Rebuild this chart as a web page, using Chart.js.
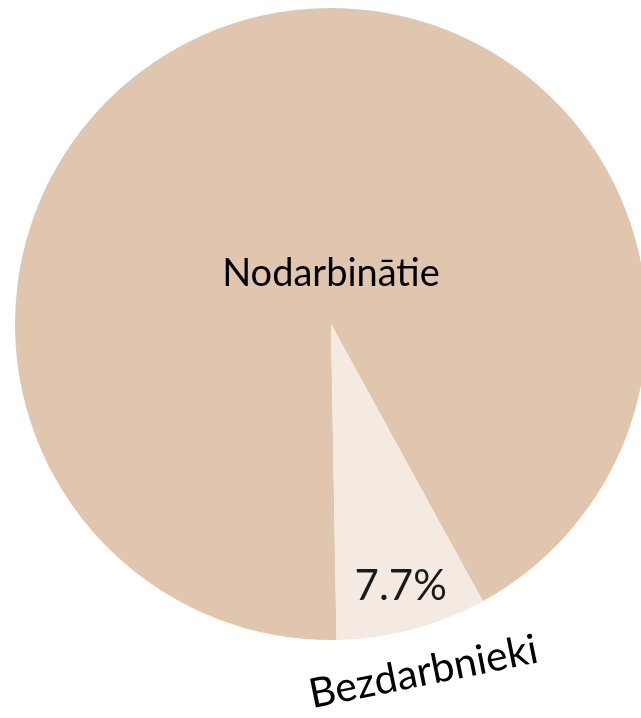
<!DOCTYPE html>
<html>
<head>
<meta charset="utf-8">
<script src="https://cdn.jsdelivr.net/npm/chart.js@4/dist/chart.umd.min.js"></script>
<style>
  html, body { margin: 0; padding: 0; background: #ffffff; overflow: hidden; }
  #wrap { width: 662px; height: 718px; position: relative; }
</style>
</head>
<body>
<div id="wrap"><canvas id="c" width="662" height="718"></canvas></div>
<script>
const categories = ["Nodarbinātie", "Bezdarbnieki"];
const values = [92.3, 7.7];
const valueLabels = ["", "7.7%"];
const colors = ["#E0C5AF", "#F4EAE1"];

const labelPlugin = {
  id: 'pieLabels',
  afterDatasetsDraw(chart) {
    const ctx = chart.ctx;
    const meta = chart.getDatasetMeta(0);
    ctx.save();
    ctx.textAlign = 'center';
    ctx.textBaseline = 'middle';
    // Big slice category label, near the pie centre
    const a0 = meta.data[0];
    ctx.fillStyle = '#000000';
    ctx.font = '38px Lato, "Open Sans", sans-serif';
    ctx.fillText(categories[0], a0.x, a0.y - a0.outerRadius * 0.158);
    // Small slice: value inside, category outside (rotated)
    const a1 = meta.data[1];
    const mid = (a1.startAngle + a1.endAngle) / 2;
    const r = a1.outerRadius;
    ctx.fillStyle = '#1a1a1a';
    ctx.font = '42px Lato, "Open Sans", sans-serif';
    ctx.fillText(valueLabels[1], a1.x + Math.cos(mid) * r * 0.86, a1.y + Math.sin(mid) * r * 0.86);
    ctx.fillStyle = '#000000';
    ctx.font = '41px Lato, "Open Sans", sans-serif';
    const lx = a1.x + Math.cos(mid) * r * 1.14;
    const ly = a1.y + Math.sin(mid) * r * 1.14;
    ctx.translate(lx, ly);
    ctx.rotate(-11.5 * Math.PI / 180);
    ctx.fillText(categories[1], 0, 0);
    ctx.restore();
  }
};

new Chart(document.getElementById('c'), {
  type: 'pie',
  data: {
    labels: categories,
    datasets: [{
      data: values,
      backgroundColor: colors,
      borderWidth: 0
    }]
  },
  options: {
    responsive: false,
    animation: false,
    rotation: 179,
    layout: { padding: { left: 15, right: 15, top: 8, bottom: 78 } },
    plugins: {
      legend: { display: false },
      tooltip: { enabled: false }
    }
  },
  plugins: [labelPlugin]
});
</script>
</body>
</html>
